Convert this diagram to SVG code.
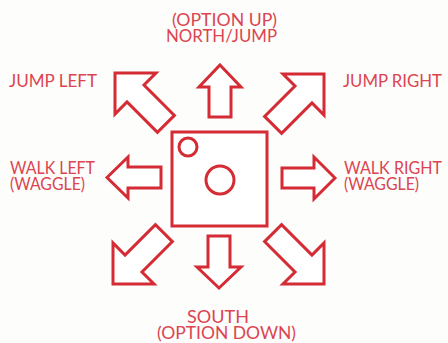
<svg xmlns="http://www.w3.org/2000/svg" width="448" height="343" viewBox="0 0 448 343">
<style>
  .bg { fill: #fdfdfb; }
  .shape { fill: #ffffff; stroke: #d42b35; stroke-width: 3; stroke-linejoin: miter; }
  .lbl { font-family: "Lato", "Liberation Sans", sans-serif; font-size: 17px; fill: #dc4450; }
</style>
<defs>
  <polygon id="diag" points="0,0 29,29 12,29 12,72 -12,72 -12,29 -29,29"/>
</defs>
<rect class="bg" x="0" y="0" width="448" height="343"/>
<g id="connectors">
  <polygon id="arrow-up" class="shape" points="220,65 241,87 231,87 231,117 209,117 209,87 199,87"/>
  <polygon id="arrow-down" class="shape" points="219,288 241,267 230,267 230,236 208,236 208,267 197,267"/>
  <polygon id="arrow-left" class="shape" points="107,177.5 128,157 128,167 161,167 161,188 128,188 128,198"/>
  <polygon id="arrow-right" class="shape" points="335,178 314,157 314,168 282,168 282,188 314,188 314,199"/>
  <use id="arrow-ul" class="shape" href="#diag" transform="translate(115,73) rotate(-45)"/>
  <use id="arrow-ur" class="shape" href="#diag" transform="translate(324,74) rotate(45)"/>
  <use id="arrow-ll" class="shape" href="#diag" transform="translate(113,284) rotate(-135)"/>
  <use id="arrow-lr" class="shape" href="#diag" transform="translate(324,284) rotate(135)"/>
</g>
<g id="joystick">
  <rect class="shape" x="172" y="132" width="95" height="94"/>
  <circle class="shape" cx="188" cy="147" r="9"/>
  <circle class="shape" cx="220" cy="180" r="14"/>
</g>
<g id="label-north">
  <text class="lbl" x="172" y="26" textLength="105" lengthAdjust="spacingAndGlyphs">(OPTION UP)</text>
  <text class="lbl" x="166" y="42" textLength="111" lengthAdjust="spacingAndGlyphs">NORTH/JUMP</text>
</g>
<g id="label-jump-left">
  <text class="lbl" x="9" y="87" textLength="88" lengthAdjust="spacingAndGlyphs">JUMP LEFT</text>
</g>
<g id="label-jump-right">
  <text class="lbl" x="343" y="87" textLength="99" lengthAdjust="spacingAndGlyphs">JUMP RIGHT</text>
</g>
<g id="label-walk-left">
  <text class="lbl" x="10" y="174" textLength="85" lengthAdjust="spacingAndGlyphs">WALK LEFT</text>
  <text class="lbl" x="10" y="190" textLength="75" lengthAdjust="spacingAndGlyphs">(WAGGLE)</text>
</g>
<g id="label-walk-right">
  <text class="lbl" x="344" y="174" textLength="98" lengthAdjust="spacingAndGlyphs">WALK RIGHT</text>
  <text class="lbl" x="344" y="190" textLength="75" lengthAdjust="spacingAndGlyphs">(WAGGLE)</text>
</g>
<g id="label-south">
  <text class="lbl" x="187" y="323" textLength="62" lengthAdjust="spacingAndGlyphs">SOUTH</text>
  <text class="lbl" x="157" y="339" textLength="139" lengthAdjust="spacingAndGlyphs">(OPTION DOWN)</text>
</g>
</svg>
